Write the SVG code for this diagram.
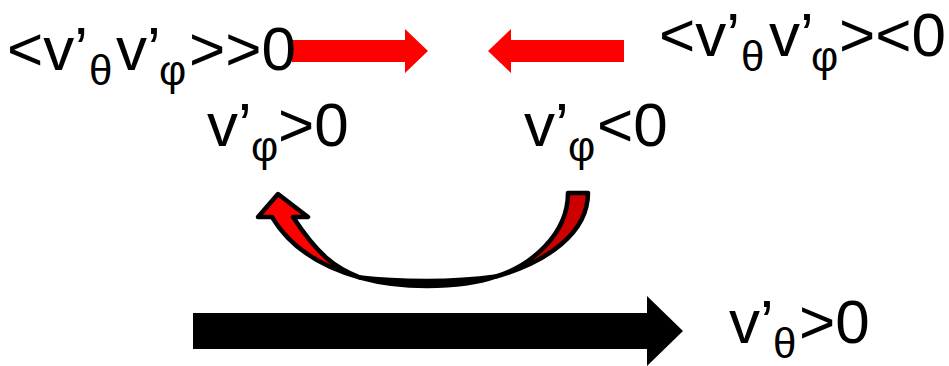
<svg xmlns="http://www.w3.org/2000/svg" width="949" height="366" viewBox="0 0 949 366">
<style>
text{font-family:"Liberation Sans",Arial,sans-serif;font-size:62px;fill:#000}
.sub{font-size:42px}
.red{fill:#FF0000}
.curve{stroke:#000;stroke-width:4.5;stroke-linejoin:round}
</style>
<rect width="949" height="366" fill="#fff"/>
<g id="connectors">
<path class="red" d="M292,40 H405 V29 L428,51 L405,73 V62 H292 Z"/>
<path class="red" d="M624,40 H511 V29 L488,51 L511,73 V62 H624 Z"/>
<path fill="#000" d="M193,313 H647 V296 L683,331 L647,366 V349 H193 Z"/>
<g id="curved-arrow">
<path class="curve" fill="#CC0000" d="M568,193 L588,193 C588,232.9 547.3,262 496,276.5 C530,266 568,235 568,193 Z"/>
<path class="curve" fill="#FF0000" d="M258,217 L278,194 L308,217 L293,217 C318,255 335,268 360,277.5 C321.9,267 290.2,247.5 272,217 Z"/>
<path class="curve" fill="#000" d="M360,277.5 C380,283 400,286 427,286 C455,286 478,283 496,276.5 C478,279 455,281 427,281 C400,281 380,280 360,277.5 Z"/>
</g>
</g>
<g id="corr-pos">
<text x="7" y="70">&lt;v’<tspan class="sub" x="89" y="85">θ</tspan><tspan x="116" y="70">v’</tspan><tspan class="sub" x="159" y="85">φ</tspan><tspan x="189" y="70">&gt;&gt;0</tspan></text>
</g>
<g id="corr-neg">
<text x="659" y="56">&lt;v’<tspan class="sub" x="741" y="71">θ</tspan><tspan x="769" y="56">v’</tspan><tspan class="sub" x="811" y="71">φ</tspan><tspan x="839" y="56">&gt;&lt;0</tspan></text>
</g>
<g id="vphi-pos">
<text x="207" y="146">v’<tspan class="sub" x="251" y="161">φ</tspan><tspan x="278" y="146">&gt;0</tspan></text>
</g>
<g id="vphi-neg">
<text x="524" y="146">v’<tspan class="sub" x="568" y="161">φ</tspan><tspan x="597" y="146">&lt;0</tspan></text>
</g>
<g id="vtheta-pos">
<text x="729" y="343">v’<tspan class="sub" x="773" y="358">θ</tspan><tspan x="799" y="343">&gt;0</tspan></text>
</g>
</svg>
